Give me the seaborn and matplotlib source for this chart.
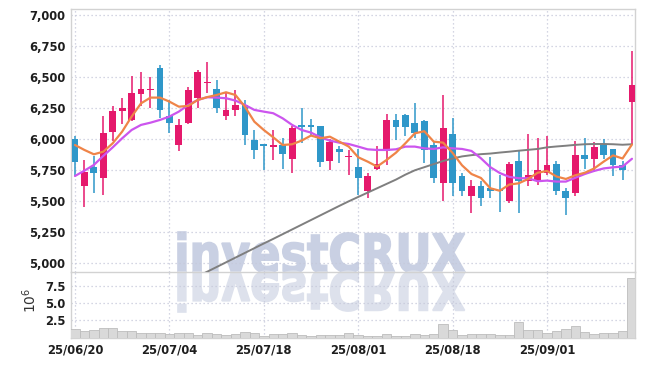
import numpy as np
import pandas as pd
import matplotlib
matplotlib.use("Agg")
import matplotlib.pyplot as plt
import seaborn as sns
from matplotlib.textpath import TextPath
from matplotlib.patches import PathPatch
from matplotlib.transforms import Affine2D, IdentityTransform
from matplotlib.font_manager import FontProperties
from matplotlib.ticker import FixedLocator, FuncFormatter

# ---------------- data ----------------
tick_pos = [0, 10, 20, 30, 40, 50]
tick_labels = ["25/06/20", "25/07/04", "25/07/18", "25/08/01", "25/08/18", "25/09/01"]
price_ticks = [5000, 5250, 5500, 5750, 6000, 6250, 6500, 6750, 7000]
vol_ticks = [2.5, 5.0, 7.5]

opens = [6000, 5620, 5780, 5685, 6060, 6225, 6155, 6365, 6395, 6575,
         6185, 5955, 6130, 6335, 6450, 6405, 6185, 6240, 6275, 5995,
         5955, 5940, 5955, 5840, 6110, 6105, 6105, 5825, 5925, 5855,
         5780, 5580, 5760, 5905, 6155, 6195, 6135, 6145, 5955, 5650,
         6045, 5705, 5540, 5620, 5605, 5590, 5500, 5825, 5665, 5660,
         5730, 5800, 5585, 5565, 5875, 5840, 5955, 5920, 5795, 6300]
highs = [6030, 5835, 5865, 6185, 6270, 6330, 6510, 6540, 6500, 6595,
         6320, 6160, 6425, 6560, 6620, 6480, 6380, 6400, 6320, 6075,
         5960, 6075, 6010, 6110, 6250, 6160, 6110, 6000, 5945, 5915,
         5920, 5730, 5945, 6200, 6200, 6200, 6290, 6155, 5980, 6360,
         6170, 5725, 5670, 5665, 5855, 5710, 5820, 5905, 6040, 6010,
         6025, 5825, 5605, 5985, 6010, 5980, 6000, 5925, 5825, 6710]
lows = [5700, 5455, 5565, 5550, 5990, 6120, 6145, 6270, 6250, 6170,
        6050, 5905, 6125, 6250, 6375, 6210, 6155, 6185, 5950, 5840,
        5750, 5835, 5760, 5725, 5970, 6030, 5780, 5755, 5805, 5710,
        5550, 5530, 5755, 5795, 5995, 6025, 6010, 5810, 5645, 5505,
        5540, 5545, 5405, 5460, 5530, 5410, 5485, 5405, 5620, 5630,
        5710, 5550, 5390, 5545, 5760, 5740, 5845, 5700, 5670, 5955]
closes = [5820, 5735, 5730, 6050, 6230, 6250, 6370, 6405, 6405, 6240,
          6130, 6115, 6400, 6545, 6460, 6250, 6235, 6275, 6035, 5910,
          5945, 5955, 5880, 6090, 6100, 6100, 5820, 5980, 5895, 5865,
          5690, 5705, 5800, 6155, 6100, 6100, 6050, 5910, 5685, 6090,
          5650, 5585, 5620, 5530, 5585, 5580, 5800, 5660, 5710, 5755,
          5795, 5580, 5525, 5875, 5840, 5935, 5870, 5790, 5750, 6440]
ma_short = [5954, 5914, 5879, 5900, 5968, 6062, 6183, 6290, 6336, 6336,
            6304, 6263, 6269, 6317, 6340, 6357, 6379, 6357, 6263, 6142,
            6075, 6016, 5954, 5960, 5989, 6030, 6008, 6021, 5981, 5941,
            5855, 5820, 5780, 5833, 5892, 5968, 6048, 6065, 5981, 5973,
            5890, 5790, 5720, 5688, 5605, 5585, 5635, 5645, 5680, 5730,
            5745, 5700, 5680, 5710, 5730, 5765, 5820, 5870, 5845, 5958]
ma_mid = [5704, 5747, 5793, 5866, 5935, 6008, 6075, 6116, 6134, 6156,
          6183, 6223, 6277, 6317, 6339, 6336, 6331, 6312, 6277, 6237,
          6223, 6210, 6169, 6116, 6075, 6054, 6016, 5989, 5973, 5962,
          5941, 5919, 5914, 5914, 5919, 5941, 5941, 5927, 5922, 5935,
          5927, 5922, 5906, 5847, 5775, 5728, 5697, 5686, 5686, 5662,
          5667, 5659, 5659, 5690, 5720, 5745, 5765, 5774, 5780, 5843]
ma_long = [np.nan] * 13 + [
    4895, 4932, 4970, 5008, 5046, 5084, 5122,
    5160, 5197, 5235, 5273, 5311, 5349, 5387, 5425, 5463, 5500,
    5535, 5570, 5605, 5640, 5675, 5715, 5750, 5775, 5800, 5825,
    5845, 5862, 5872, 5880, 5885, 5893, 5900, 5908, 5915, 5922,
    5935, 5942, 5948, 5955, 5960, 5962, 5962, 5960, 5956, 5960]
volume = [1.23, 0.93, 1.08, 1.37, 1.37, 0.98, 0.93, 0.64, 0.64, 0.64,
          0.49, 0.64, 0.64, 0.39, 0.64, 0.49, 0.34, 0.49, 0.78, 0.64,
          0.20, 0.49, 0.49, 0.64, 0.34, 0.20, 0.44, 0.44, 0.34, 0.64,
          0.34, 0.15, 0.20, 0.49, 0.25, 0.15, 0.49, 0.34, 0.49, 1.96,
          1.08, 0.34, 0.49, 0.49, 0.49, 0.34, 0.34, 2.25, 1.08, 1.08,
          0.69, 0.93, 1.23, 1.67, 0.78, 0.49, 0.64, 0.64, 0.93, 8.68]

df = pd.DataFrame({"idx": np.arange(len(opens)), "open": opens, "high": highs,
                   "low": lows, "close": closes, "ma_s": ma_short, "ma_m": ma_mid,
                   "ma_l": ma_long, "vol": volume})

# ---------------- style ----------------
UP = "#e5196c"
DOWN = "#2f97c9"
W, H = 645, 366
sns.set_theme(style="white")
plt.rcParams["font.family"] = ["DejaVu Sans"]

fig = plt.figure(figsize=(W / 100, H / 100), dpi=100)
fig.patch.set_facecolor("white")

L, R = 71, 635
TOP, MID, BOT = 9.3, 272, 337.5
ax = fig.add_axes([L / W, 1 - MID / H, (R - L) / W, (MID - TOP) / H])
axv = fig.add_axes([L / W, 1 - BOT / H, (R - L) / W, (BOT - MID) / H], sharex=ax)
for a in (ax, axv):
    a.set_facecolor("none")

# watermark with reflection
fp = FontProperties(family="DejaVu Sans", weight="bold", stretch="condensed")
tp = TextPath((0, 0), "investCRUX", size=100, prop=fp)
bb = tp.get_extents()
sx = (465 - 178) / bb.width
sy = 40 / bb.y1
x0 = 178 - bb.x0 * sx
base = H - 272
wm = PathPatch(tp, transform=Affine2D().scale(sx, sy).translate(x0, base) + IdentityTransform(),
               facecolor="#c9d0e3", edgecolor="#c9d0e3", linewidth=1.2, zorder=-1)
wm2 = PathPatch(tp, transform=Affine2D().scale(sx, -sy).translate(x0, base) + IdentityTransform(),
                facecolor="#dde1ec", edgecolor="#dde1ec", linewidth=1.2, zorder=-1)
fig.add_artist(wm)
fig.add_artist(wm2)

# candles
colors = [UP if c >= o else DOWN for o, c in zip(df["open"], df["close"])]
ax.vlines(df["idx"], df["low"], df["high"], colors=colors, linewidth=1.1, zorder=3)
body_lo = np.minimum(df["open"], df["close"])
body_h = np.maximum(np.abs(df["close"] - df["open"]), 14)
ax.bar(df["idx"], body_h, bottom=body_lo, width=0.72, color=colors, linewidth=0, zorder=4)

sns.lineplot(data=df, x="idx", y="ma_l", ax=ax, color="#7f7f7f", linewidth=1.4, zorder=5)
sns.lineplot(data=df, x="idx", y="ma_m", ax=ax, color="#cc55ee", linewidth=1.6, zorder=6)
sns.lineplot(data=df, x="idx", y="ma_s", ax=ax, color="#ef8448", linewidth=1.6, zorder=7)

# volume
axv.bar(df["idx"], df["vol"], width=1.0, color="#d9d9d9", edgecolor="#bdbdbd",
        linewidth=0.6, zorder=3)

# axes
ax.set_xlim(-0.42, 59.32)
ax.set_ylim(4930, 7048)
axv.set_ylim(0, 9.63)

ax.yaxis.set_major_locator(FixedLocator(price_ticks))
ax.yaxis.set_major_formatter(FuncFormatter(lambda v, p: f"{int(v):,}"))
axv.yaxis.set_major_locator(FixedLocator(vol_ticks))
axv.yaxis.set_major_formatter(FuncFormatter(lambda v, p: f"{v:.1f}"))
axv.xaxis.set_major_locator(FixedLocator(tick_pos))
axv.set_xticklabels(tick_labels)
plt.setp(ax.get_xticklabels(), visible=False)

for a in (ax, axv):
    a.set_xlabel("")
    a.set_ylabel("")
    a.grid(True, color="#c6c9da", linestyle=(0, (1, 2.2)), linewidth=0.9)
    a.set_axisbelow(True)
    a.tick_params(length=0, pad=4, colors="#1e1e1e")
    for lab in a.get_yticklabels() + a.get_xticklabels():
        lab.set_fontfamily("DejaVu Sans")
        lab.set_fontstretch("condensed")
        lab.set_fontweight("bold")
        lab.set_fontsize(9.3)
    for s in a.spines.values():
        s.set_color("#d2d2d2")
        s.set_linewidth(1.0)
axv.spines["top"].set_visible(False)

fig.text(30 / W, 1 - 300 / H, "$10^{6}$", rotation=90, ha="center", va="center",
         fontsize=10, color="#333333")

fig.savefig("out.png", dpi=100, facecolor="white")
